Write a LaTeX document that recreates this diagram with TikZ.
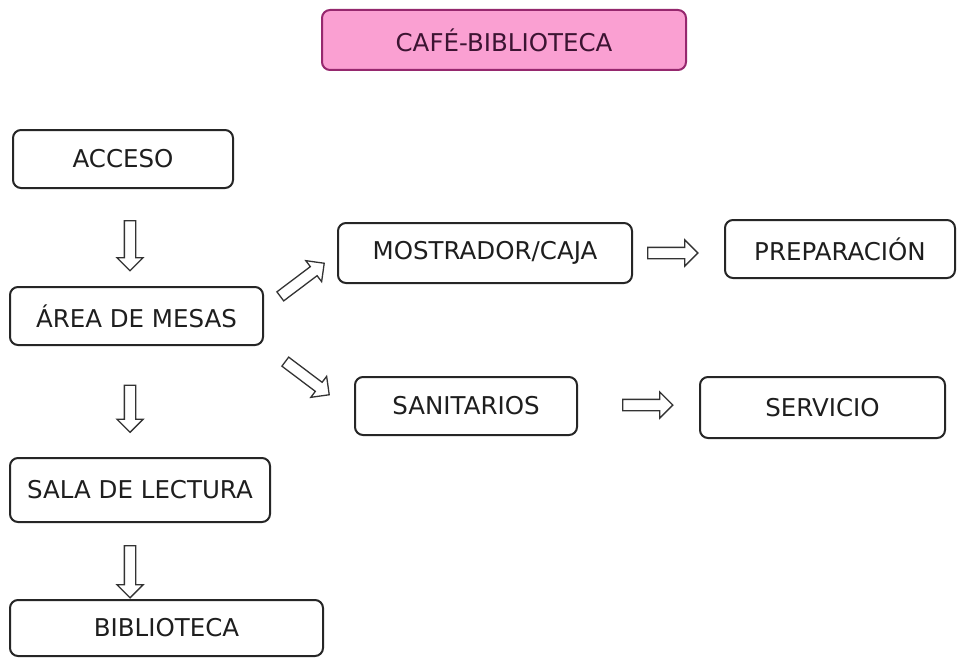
\documentclass[tikz,border=0pt]{standalone}
\usepackage{fontspec}
\setmainfont{DejaVu Sans}
\usetikzlibrary{shapes.arrows,calc}
\definecolor{pinkfill}{RGB}{250,160,210}
\definecolor{pinkline}{RGB}{150,40,110}
\definecolor{txt}{RGB}{30,30,30}
\tikzset{
  box/.style={draw=black!85, line width=2pt, rounded corners=8pt, fill=white,
    text=txt, font=\fontsize{24.5}{27}\selectfont, inner sep=0pt},
  titlebox/.style={box, draw=pinkline, fill=pinkfill, text={rgb,255:red,60;green,20;blue,50}},
  blockarr/.style={single arrow, draw=black!80, line width=1.3pt, fill=white,
    inner xsep=0pt, inner ysep=5pt, single arrow head extend=7.5pt, single arrow tip angle=90,
    minimum height=#1},
  blockarr/.default=50pt
}
\begin{document}
\begin{tikzpicture}[x=1pt,y=-1pt]
\useasboundingbox[fill=white] (0,0) rectangle (966,661);
\node[titlebox, minimum width=364pt, minimum height=60pt] (title) at (504,40) {CAFÉ-BIBLIOTECA};
\node[box, minimum width=220pt, minimum height=58pt] (acceso) at (123,159) {ACCESO};
\node[box, minimum width=253pt, minimum height=58pt] (mesas) at (136.5,316) {ÁREA DE MESAS};
\node[box, minimum width=294pt, minimum height=60pt] (mostrador) at (485,253) {MOSTRADOR/CAJA};
\node[box, minimum width=230pt, minimum height=58pt] (prep) at (840,249) {PREPARACIÓN};
\node[box, minimum width=222pt, minimum height=58pt] (sanit) at (466,406) {SANITARIOS};
\node[box, minimum width=245pt, minimum height=61pt] (serv) at (822.5,407.5) {SERVICIO};
\node[box, minimum width=260pt, minimum height=64pt] (sala) at (140,490) {SALA DE LECTURA};
\node[box, minimum width=313pt, minimum height=56pt] (biblio) at (166.5,628) {BIBLIOTECA};
% block arrows between the boxes
\node[blockarr=50pt, rotate=-90] (a1) at (130,243) {};
\node[blockarr=47pt, rotate=-90] (a2) at (130,406) {};
\node[blockarr=52pt, rotate=-90] (a3) at (130,569) {};
\node[blockarr=50pt] (a4) at (670,253) {};
\node[blockarr=50pt] (a5) at (645,405) {};
\node[blockarr=55pt, rotate=37] (a6) at (300,281.5) {};
\node[blockarr=55pt, rotate=-37] (a7) at (305,376.5) {};
\end{tikzpicture}
\end{document}
